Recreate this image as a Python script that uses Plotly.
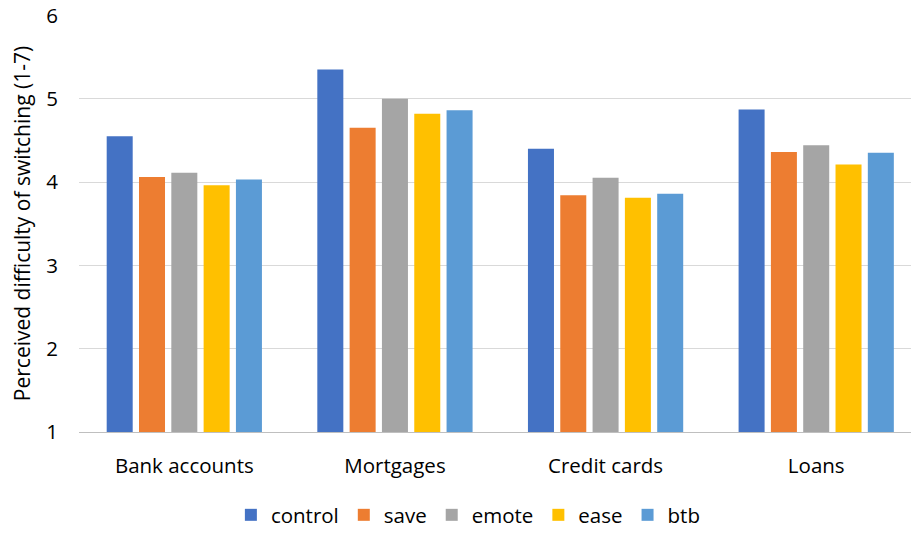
import plotly.graph_objects as go

categories = ["Bank accounts", "Mortgages", "Credit cards", "Loans"]
series_names = ["control", "save", "emote", "ease", "btb"]
control = [4.55, 5.35, 4.40, 4.87]
save = [4.06, 4.65, 3.84, 4.36]
emote = [4.11, 5.00, 4.05, 4.44]
ease = [3.96, 4.82, 3.81, 4.21]
btb = [4.03, 4.86, 3.86, 4.35]
y_ticks = [1, 2, 3, 4, 5, 6]
colors = ["#4472C4", "#ED7D31", "#A5A5A5", "#FFC000", "#5B9BD5"]

font_family = "'Open Sans', sans-serif"
fs = 20.5

fig = go.Figure()
for name, vals, col in zip(series_names, [control, save, emote, ease, btb], colors):
    fig.add_trace(go.Bar(
        x=categories, y=[v - 1 for v in vals], base=1, name=name,
        marker=dict(color=col, line=dict(width=0)),
    ))

fig.update_layout(
    width=911, height=535,
    margin=dict(l=79, r=0, t=15, b=95),
    paper_bgcolor="white", plot_bgcolor="white",
    barmode="group", bargap=0.233, bargroupgap=0.195,
    font=dict(family=font_family, size=fs, color="#000000"),
    legend=dict(orientation="h", x=0.468, xanchor="center", y=-0.2, yanchor="middle",
                font=dict(size=fs), itemwidth=30, traceorder="normal"),
    showlegend=True,
)
fig.update_xaxes(
    range=[-0.5, 3.45], showgrid=False, showline=True, linecolor="#BFBFBF", linewidth=1,
    ticks="", tickfont=dict(size=fs), ticklabelstandoff=15, automargin=False,
)
fig.update_yaxes(
    range=[1, 6.004], tickvals=y_ticks, showgrid=True, gridcolor="#D9D9D9", gridwidth=1,
    zeroline=False, showline=False, ticks="", tickfont=dict(size=fs), ticklabelstandoff=20,
    ticklabeloverflow="allow",
    title=dict(text="Perceived difficulty of switching (1-7)", font=dict(size=21), standoff=9),
    automargin=False,
)
fig.write_html(
    "out.html",
    config={"displayModeBar": False},
    post_script="document.body.style.margin='0px';",
)
